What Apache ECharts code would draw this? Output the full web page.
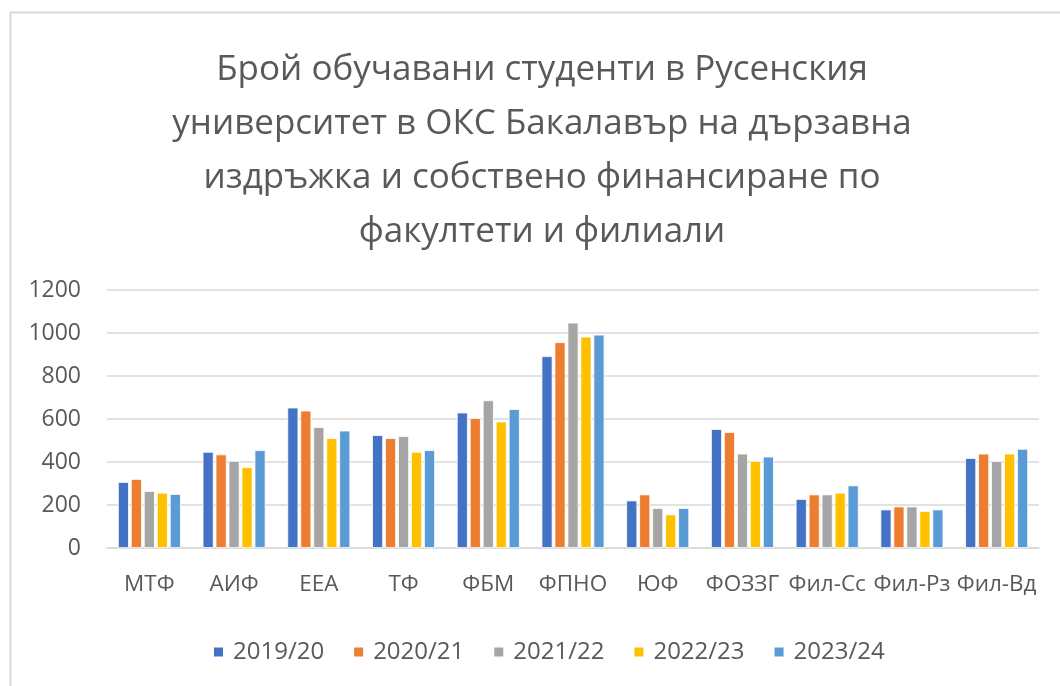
<!DOCTYPE html>
<html><head><meta charset="utf-8">
<script src="https://cdn.jsdelivr.net/npm/echarts@6/dist/echarts.min.js"></script>
<style>html,body{margin:0;padding:0;background:#fff}#c{width:1060px;height:686px}</style>
</head><body><div id="c"></div>
<script>
const categories = ['МТФ','АИФ','ЕЕА','ТФ','ФБМ','ФПНО','ЮФ','ФОЗЗГ','Фил-Сс','Фил-Рз','Фил-Вд'];
const seriesNames = ['2019/20','2020/21','2021/22','2022/23','2023/24'];
const v2019 = [307, 447, 653, 525, 630, 892, 221, 553, 228, 179, 418];
const v2020 = [321, 435, 639, 511, 604, 957, 249, 539, 249, 193, 439];
const v2021 = [265, 405, 562, 520, 687, 1048, 186, 439, 249, 193, 404];
const v2022 = [257, 376, 511, 447, 588, 983, 156, 404, 257, 172, 439];
const v2023 = [251, 455, 546, 455, 646, 992, 186, 425, 291, 179, 461];
const yTicks = [0, 200, 400, 600, 800, 1000, 1200];
const titleText = 'Брой обучавани студенти в Русенския\nуниверситет в ОКС Бакалавър на дързавна\nиздръжка и собствено финансиране по\nфакултети и филиали';

const colors = ['#4472C4','#ED7D31','#A5A5A5','#FFC000','#5B9BD5'];
const values = [v2019, v2020, v2021, v2022, v2023];
const FONT = '"Open Sans", sans-serif';

const chart = echarts.init(document.getElementById('c'), null, {renderer:'canvas'});
chart.setOption({
  animation: false,
  color: colors,
  graphic: [{
    type: 'rect', left: 8, top: 10,
    shape: {width: 1070, height: 700},
    style: {fill: 'none', stroke: '#d9d9d9', lineWidth: 2},
    silent: true, z: -1
  }],
  title: {
    text: titleText,
    left: 537, top: 38, textAlign: 'center',
    textStyle: {fontFamily: FONT, fontSize: 35, fontWeight: 'normal', color: '#595959', lineHeight: 54}
  },
  legend: {
    data: seriesNames,
    left: 207, top: 635,
    icon: 'rect', itemWidth: 11, itemHeight: 11, itemGap: 28,
    textStyle: {fontFamily: FONT, fontSize: 24, color: '#595959', padding: [0,0,0,4]}
  },
  grid: {left: 107, right: 21, top: 290, height: 258, containLabel: false},
  xAxis: {
    type: 'category', data: categories,
    axisTick: {show: false},
    axisLine: {show: true, lineStyle: {color: '#d9d9d9', width: 1.5}},
    axisLabel: {interval: 0, margin: 25, fontFamily: FONT, fontSize: 22.5, color: '#595959'}
  },
  yAxis: {
    type: 'value', min: yTicks[0], max: yTicks[yTicks.length-1], interval: 200,
    axisLine: {show: false}, axisTick: {show: false},
    splitLine: {lineStyle: {color: '#d9d9d9', width: 1.5}},
    axisLabel: {margin: 26, fontFamily: FONT, fontSize: 23, color: '#595959', formatter: v => String(v)}
  },
  series: seriesNames.map((n, i) => ({
    name: n, type: 'bar', data: values[i],
    barWidth: 11, barGap: '18%',
    itemStyle: {color: colors[i], borderColor: '#ffffff', borderWidth: 0.8}
  }))
});
</script></body></html>
